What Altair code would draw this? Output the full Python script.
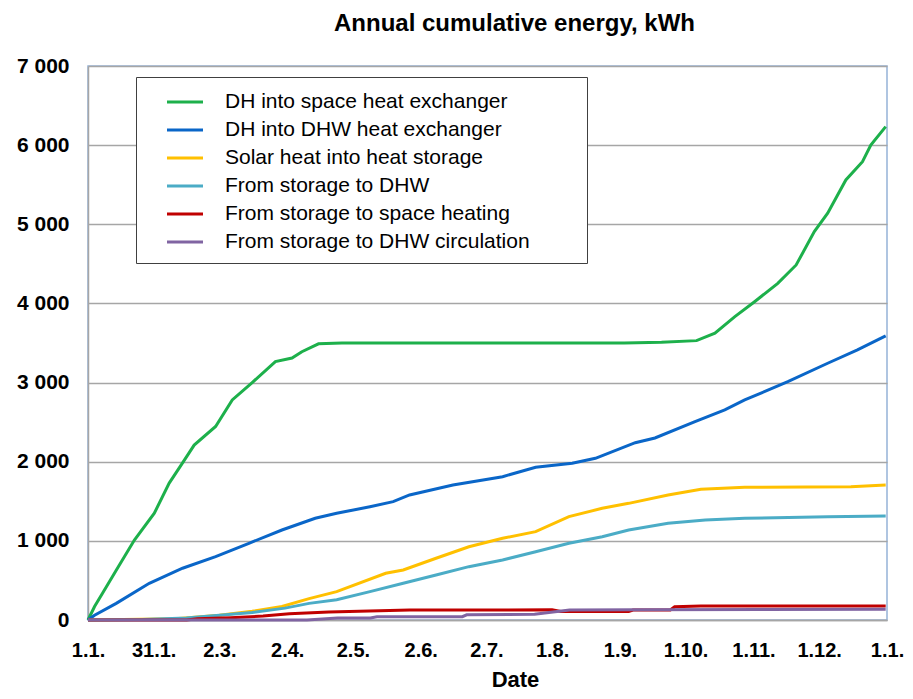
import altair as alt
import pandas as pd

FONT = "Liberation Sans"

series_names = [
    "DH into space heat exchanger",
    "DH into DHW heat exchanger",
    "Solar heat into heat storage",
    "From storage to DHW",
    "From storage to space heating",
    "From storage to DHW circulation",
]
series_colors = ["#1DB04B", "#0A66C8", "#FFC000", "#4BACC6", "#C00000", "#8064A2"]

green_days = [0, 3, 6.7, 12.9, 21.2, 30.3, 37.1, 43.2, 48.5, 58.3, 65.9, 75, 85.6, 93.2, 97.7,
              105.3, 116, 150, 200, 245, 262, 278, 286.4, 295.5, 304.5, 315.1, 323.5, 331.8,
              337.9, 346.2, 353.8, 357.6, 364.4]
green_vals = [0, 170, 340, 630, 1010, 1350, 1730, 1985, 2210, 2445, 2780, 3000, 3265, 3310, 3390,
              3490, 3500, 3500, 3500, 3500, 3510, 3530, 3623, 3833, 4022, 4254, 4486, 4907,
              5140, 5560, 5791, 6002, 6234]

blue_days = [0, 3, 12.9, 28, 43.2, 58.3, 73.5, 88.6, 103.8, 113.6, 128.8, 139.4, 146.9, 166.7,
             189.4, 204.5, 221.2, 231.8, 250, 259, 277.3, 290.9, 300, 319.7, 337.9, 351.5, 364.4]
blue_vals = [0, 60, 210, 464, 654, 800, 969, 1137, 1285, 1348, 1432, 1495, 1580, 1706,
             1811, 1930, 1980, 2043, 2240, 2300, 2506, 2654, 2780, 3011, 3244, 3412, 3589]

yellow_days = [0, 40, 60, 75, 88.6, 101, 113.6, 136, 144, 159, 174, 189.4, 204.5, 219.7, 234.9,
               247, 265, 280, 300, 348.5, 364.4]
yellow_vals = [0, 15, 60, 110, 170, 270, 358, 590, 632, 780, 926, 1032, 1116, 1306, 1411,
               1474, 1580, 1651, 1677, 1685, 1706]

cyan_days = [0, 25, 45, 60, 75, 90, 101, 113.6, 128.8, 144, 159, 174, 189.4, 204.5, 219.7,
             234.9, 247, 265, 282, 300, 338, 364.4]
cyan_vals = [0, 5, 25, 60, 95, 150, 210, 255, 358, 464, 569, 674, 758, 863, 969,
             1053, 1137, 1222, 1264, 1285, 1306, 1314]

red_days = [0, 45, 50, 65, 80, 92, 110, 147, 212, 216, 247, 249, 266, 268, 280, 364.4]
red_vals = [0, 0, 15, 30, 50, 80, 100, 125, 128, 108, 108, 126, 126, 168, 178, 178]

purple_days = [0, 100, 114, 129, 132, 171, 173, 204, 220, 250, 364.4]
purple_vals = [0, 0, 25, 25, 42, 42, 65, 72, 126, 130, 135]

tick_days = [0, 30, 60, 91, 121, 152, 182, 212, 243, 273, 304, 334, 365]
tick_labels = ["1.1.", "31.1.", "2.3.", "2.4.", "2.5.", "2.6.", "2.7.", "1.8.", "1.9.",
               "1.10.", "1.11.", "1.12.", "1.1."]
y_ticks = [0, 1000, 2000, 3000, 4000, 5000, 6000, 7000]

all_days = [green_days, blue_days, yellow_days, cyan_days, red_days, purple_days]
all_vals = [green_vals, blue_vals, yellow_vals, cyan_vals, red_vals, purple_vals]

rows = []
for name, days, vals in zip(series_names, all_days, all_vals):
    for d, v in zip(days, vals):
        rows.append({"series": name, "day": d, "kwh": v})
df = pd.DataFrame(rows)

x_label_expr = "[" + ",".join("'%s'" % t for t in tick_labels) + "][indexof([" + \
    ",".join(str(t) for t in tick_days) + "], datum.value)]"

chart = alt.Chart(df).mark_line(strokeWidth=3).encode(
    x=alt.X(
        "day:Q",
        scale=alt.Scale(domain=[0, 365], nice=False, zero=False),
        axis=alt.Axis(
            values=tick_days, labelExpr=x_label_expr, labelFont=FONT, labelFontSize=20,
            labelFontWeight="bold", labelColor="black", labelPadding=20, ticks=False,
            grid=False, labelFlush=False, labelOverlap=False, domainColor="#A6A6A6",
            domainWidth=1.5, title="Date", titleFont=FONT, titleFontSize=22,
            titleFontWeight="bold", titleColor="black", titleX=427, titleY=66,
            titleBaseline="alphabetic",
        ),
    ),
    y=alt.Y(
        "kwh:Q",
        scale=alt.Scale(domain=[0, 7000], nice=False),
        axis=alt.Axis(
            values=y_ticks, labelExpr="replace(format(datum.value, ','), ',', ' ')",
            labelFont=FONT, labelFontSize=21, labelFontWeight="bold", labelColor="black",
            labelPadding=19, ticks=False, domainColor="#A6A6A6", domainWidth=1.5,
            gridColor="#A6A6A6", gridWidth=1.5, title=None,
        ),
    ),
    color=alt.Color(
        "series:N",
        scale=alt.Scale(domain=series_names, range=series_colors),
        sort=series_names,
        legend=alt.Legend(
            orient="none", legendX=48, legendY=11, title=".", titleColor="white",
            titleOrient="right", titlePadding=42, titleFontSize=12,
            symbolType="M-1.44,0H1.44", symbolSize=625, symbolStrokeWidth=3,
            labelFont=FONT, labelFontSize=21, labelColor="black", labelLimit=1000,
            padding=11, symbolOffset=24, labelOffset=26, rowPadding=4,
            strokeColor="#404040", fillColor="white",
        ),
    ),
).properties(
    width=799,
    height=554,
    padding={"left": 80, "top": 58, "right": 18, "bottom": 71},
    autosize=alt.AutoSizeParams(type="none"),
    title=alt.Title(
        "Annual cumulative energy, kWh", font=FONT, fontSize=24, fontWeight="bold",
        color="black", anchor="middle", frame="group", offset=0, baseline="alphabetic",
        dx=27,
    ),
).configure_view(stroke="#95B3D7", strokeWidth=1.5)

chart.save("out.html", embed_options={"renderer": "svg", "actions": False})
